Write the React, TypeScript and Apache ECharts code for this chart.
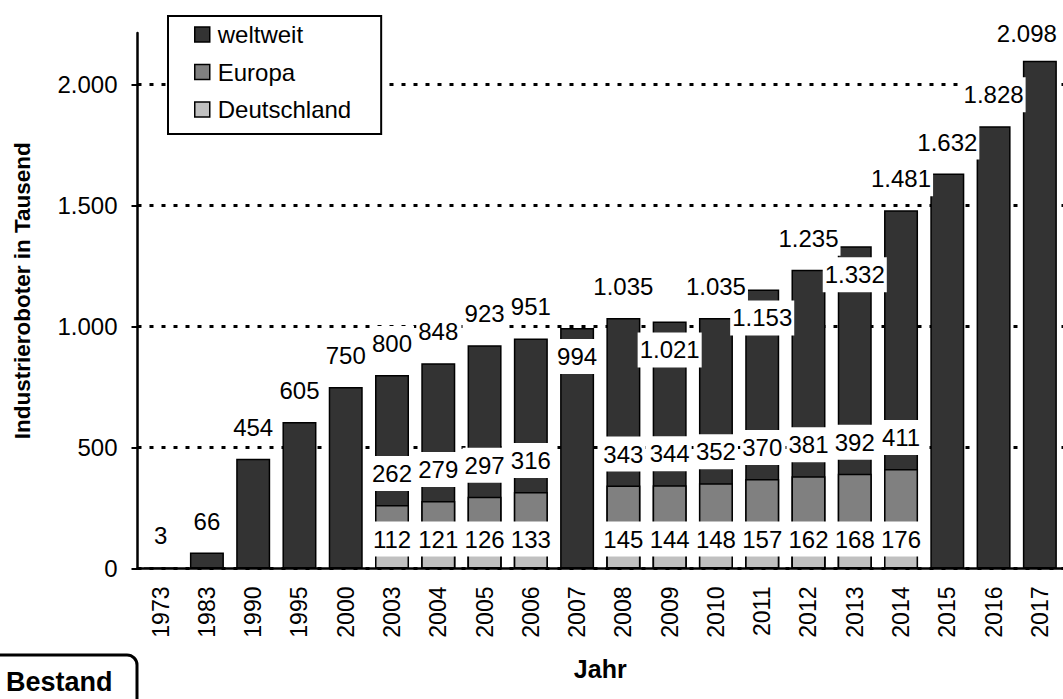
import React, { useEffect, useRef } from "react";
import * as echarts from "echarts";

const years = ["1973", "1983", "1990", "1995", "2000", "2003", "2004", "2005", "2006", "2007", "2008", "2009", "2010", "2011", "2012", "2013", "2014", "2015", "2016", "2017"];
const weltweit = [3, 66, 454, 605, 750, 800, 848, 923, 951, 994, 1035, 1021, 1035, 1153, 1235, 1332, 1481, 1632, 1828, 2098];
const europa = [null, null, null, null, null, 262, 279, 297, 316, null, 343, 344, 352, 370, 381, 392, 411, null, null, null];
const deutschland = [null, null, null, null, null, 112, 121, 126, 133, null, 145, 144, 148, 157, 162, 168, 176, null, null, null];
const yTickValues = [0, 500, 1000, 1500, 2000];
const insideLabelYears = ["2007", "2009", "2011", "2013"];
const shiftedLabelYears = ["2017"];

const FONT = 'Arial, "Liberation Sans", sans-serif';
const fmt = (v: number) => String(v).replace(/\B(?=(\d{3})+(?!\d))/g, ".");

const baseLabel = {
  show: true,
  color: "#000",
  fontSize: 24,
  lineHeight: 27,
  fontFamily: FONT,
  backgroundColor: "#fff",
  padding: [4, 2, 4, 2],
  formatter: (p: any) => fmt(p.value),
};

export default function App() {
  const ref = useRef<HTMLDivElement>(null);
  useEffect(() => {
    if (!ref.current) return;
    const chart = echarts.init(ref.current, null, { renderer: "svg" });
    const yMax = 2213;
    const weltData = weltweit.map((v, i) => {
      const y = years[i];
      if (insideLabelYears.includes(y)) {
        return { value: v, label: { position: "insideTop", distance: 11 } };
      }
      if (shiftedLabelYears.includes(y)) {
        return { value: v, label: { offset: [-13, 4] } };
      }
      return { value: v };
    });
    chart.setOption({
      animation: false,
      backgroundColor: "#fff",
      textStyle: { fontFamily: FONT },
      grid: { left: 137.5, right: -1, top: 33, bottom: 130.5, containLabel: false },
      legend: {
        left: 168,
        top: 16,
        orient: "vertical",
        data: ["weltweit", "Europa", "Deutschland"],
        itemWidth: 15,
        itemHeight: 15,
        itemGap: 10.5,
        icon: "rect",
        padding: [5, 30, 11, 26],
        backgroundColor: "#fff",
        borderColor: "#000",
        borderWidth: 2,
        itemStyle: { borderColor: "#000", borderWidth: 1.5 },
        textStyle: { fontSize: 24, lineHeight: 27, color: "#000", fontFamily: FONT, padding: [0, 0, 0, 3] },
      },
      xAxis: {
        type: "category",
        data: years,
        axisLine: { show: true, lineStyle: { color: "#000", width: 2.5 } },
        axisTick: { show: false },
        axisLabel: { rotate: 90, interval: 0, fontSize: 23, color: "#000", margin: 18, fontFamily: FONT },
        name: "Jahr",
        nameLocation: "middle",
        nameGap: 88,
        nameTextStyle: { fontSize: 25, fontWeight: "bold", color: "#000", fontFamily: FONT },
      },
      yAxis: {
        type: "value",
        min: yTickValues[0],
        max: yMax,
        interval: yTickValues[1] - yTickValues[0],
        axisLine: { show: true, lineStyle: { color: "#000", width: 2.5 } },
        axisTick: { show: true, length: 6, lineStyle: { color: "#000", width: 2 } },
        axisLabel: {
          fontSize: 24,
          color: "#000",
          margin: 20,
          fontFamily: FONT,
          showMaxLabel: false,
          formatter: (v: number) => (yTickValues.includes(v) ? fmt(v) : ""),
        },
        splitLine: {
          show: true,
          showMaxLine: false,
          lineStyle: { color: ["#000", "#000", "#000", "#000", "#000", "rgba(0,0,0,0)"], type: [4, 8], width: 3 },
        },
        name: "Industrieroboter in Tausend",
        nameLocation: "middle",
        nameGap: 104,
        nameTextStyle: { fontSize: 22.5, fontWeight: "bold", color: "#000", fontFamily: FONT, padding: [0, 0, 0, 20] },
      },
      series: [
        {
          name: "weltweit",
          type: "bar",
          barWidth: 34,
          barGap: "-100%",
          itemStyle: { color: "#333333", borderColor: "#000", borderWidth: 1.5 },
          label: { ...baseLabel, position: "top", distance: 14 },
          data: weltData,
        },
        {
          name: "Europa",
          type: "bar",
          barWidth: 34,
          barGap: "-100%",
          itemStyle: { color: "#808080", borderColor: "#000", borderWidth: 1.5 },
          label: { ...baseLabel, position: "top", distance: 14 },
          data: europa,
        },
        {
          name: "Deutschland",
          type: "bar",
          barWidth: 34,
          barGap: "-100%",
          itemStyle: { color: "#c0c0c0", borderColor: "#000", borderWidth: 1.5 },
          label: { ...baseLabel, position: "insideBottom", distance: 12 },
          data: deutschland,
        },
      ],
      graphic: [
        {
          type: "rect",
          shape: { x: -12, y: 655, width: 149, height: 70, r: 10 },
          style: { fill: "#fff", stroke: "#000", lineWidth: 3 },
          z: 10,
        },
        {
          type: "text",
          x: 6,
          y: 682,
          style: { text: "Bestand", font: `bold 27px ${FONT}`, fill: "#000", verticalAlign: "middle" },
          z: 11,
        },
      ],
    });
    return () => chart.dispose();
  }, []);
  return <div ref={ref} style={{ position: "fixed", left: 0, top: 0, width: 1063, height: 699 }} />;
}
